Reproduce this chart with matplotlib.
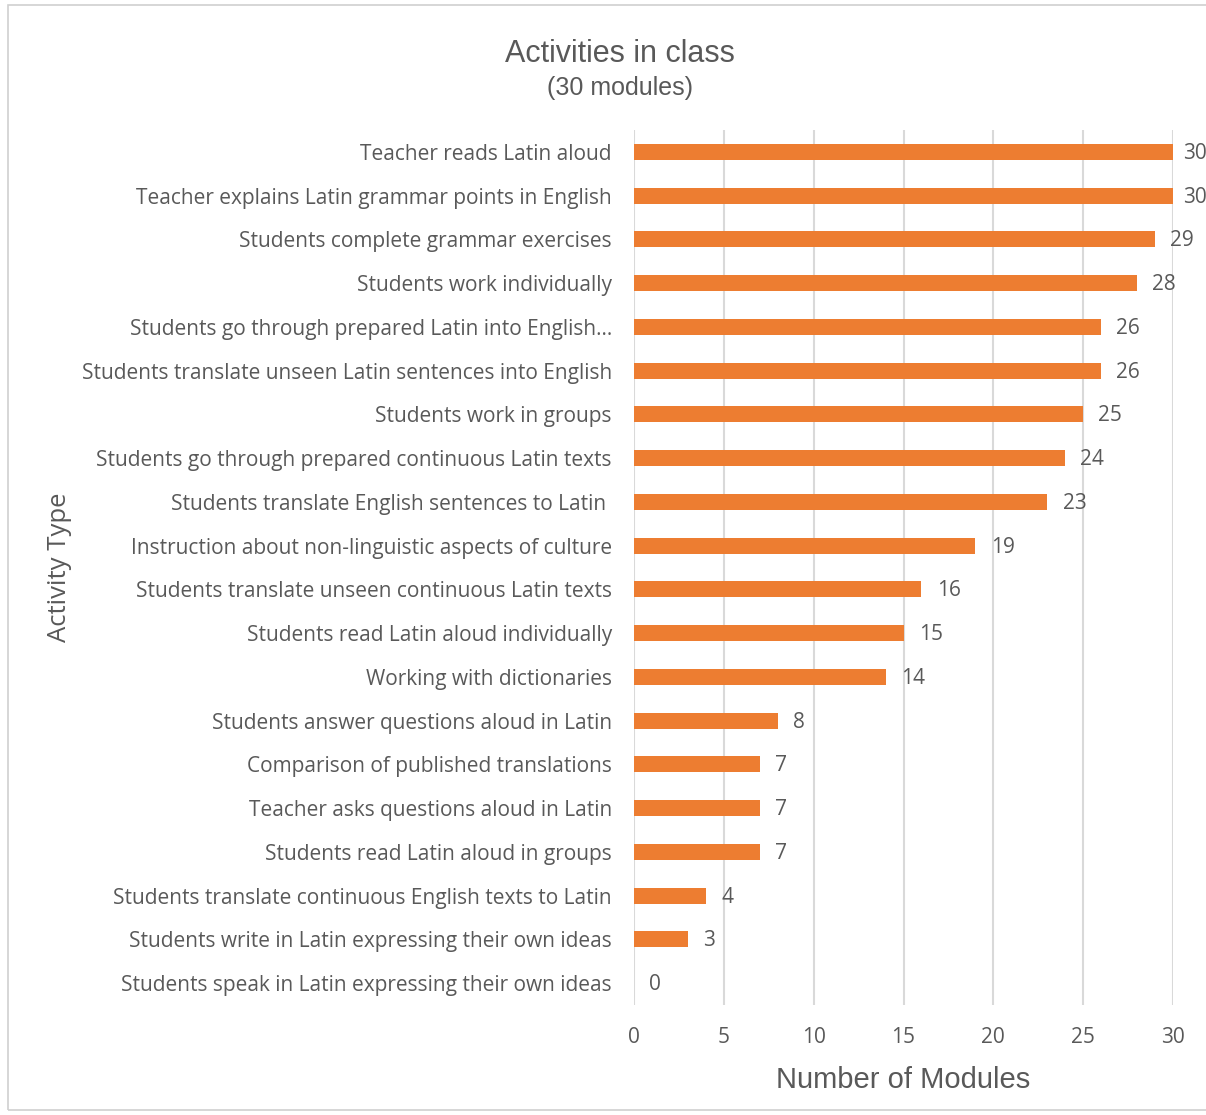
import matplotlib
matplotlib.use("Agg")
import matplotlib.pyplot as plt
from matplotlib.patches import Rectangle

activities = [
    "Teacher reads Latin aloud",
    "Teacher explains Latin grammar points in English",
    "Students complete grammar exercises",
    "Students work individually",
    "Students go through prepared Latin into English\u2026",
    "Students translate unseen Latin sentences into English",
    "Students work in groups",
    "Students go through prepared continuous Latin texts",
    "Students translate English sentences to Latin ",
    "Instruction about non-linguistic aspects of culture",
    "Students translate unseen continuous Latin texts",
    "Students read Latin aloud individually",
    "Working with dictionaries",
    "Students answer questions aloud in Latin",
    "Comparison of published translations",
    "Teacher asks questions aloud in Latin",
    "Students read Latin aloud in groups",
    "Students translate continuous English texts to Latin",
    "Students write in Latin expressing their own ideas",
    "Students speak in Latin expressing their own ideas",
]
modules = [30, 30, 29, 28, 26, 26, 25, 24, 23, 19, 16, 15, 14, 8, 7, 7, 7, 4, 3, 0]
xticks = [0, 5, 10, 15, 20, 25, 30]

orange = "#ED7D31"
gray = "#595959"
grid = "#D9D9D9"
body = ["Open Sans", "DejaVu Sans"]
narrow = ["Liberation Sans Narrow", "Liberation Sans", "DejaVu Sans"]

fig = plt.figure(figsize=(12.06, 11.15), dpi=100)
fig.patches.append(Rectangle((8/1206, 5/1115), 1.0, 1105/1115, transform=fig.transFigure,
                             fill=False, edgecolor="#D0D0D0", linewidth=1.2))
ax = fig.add_axes([634/1206, 1 - 1005/1115, 539/1206, 875/1115])

ypos = list(range(len(activities)))
ax.barh(ypos, modules, height=0.37, color=orange, zorder=3)
ax.set_ylim(len(activities) - 0.5, -0.5)
ax.set_xlim(0, 30)
ax.set_xticks(xticks)
ax.set_yticks(ypos)
ax.set_yticklabels(activities, fontsize=15, color=gray, family=body)
for lab in ax.get_xticklabels():
    lab.set_fontsize(15)
    lab.set_color(gray)
    lab.set_family(body)
ax.tick_params(axis="both", length=0)
ax.tick_params(axis="y", pad=16)
ax.tick_params(axis="x", pad=16)
ax.grid(axis="x", color=grid, linewidth=1.5, zorder=0)
for s in ax.spines.values():
    s.set_visible(False)

# labels at the axis end are pushed in a bit, as in the original
for y, v in zip(ypos, modules):
    off = 7 if v >= ax.get_xlim()[1] else 11
    ax.annotate(str(v), (v, y), xytext=(off, -1), textcoords="offset points",
                ha="left", va="center", fontsize=15, color=gray, family=body,
                annotation_clip=False)

ax.set_xlabel("Number of Modules", fontsize=21, color=gray, family=narrow, labelpad=13)
ax.set_ylabel("Activity Type", fontsize=18.5, color=gray, family=body)
ax.yaxis.set_label_coords(-(634 - 72) / 539, 0.5)

fig.text(620/1206, 1 - 54/1115, "Activities in class", ha="center", va="center",
         fontsize=22, color=gray, family=narrow)
fig.text(620/1206, 1 - 88/1115, "(30 modules)", ha="center", va="center",
         fontsize=18, color=gray, family=narrow)

fig.savefig("out.png", dpi=100)
